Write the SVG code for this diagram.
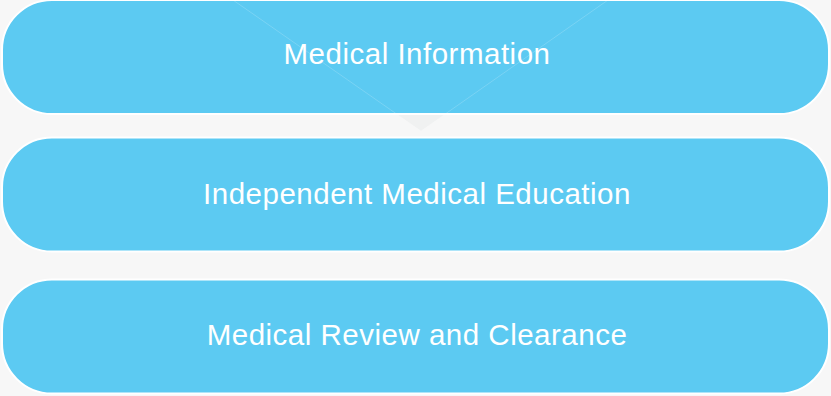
<svg xmlns="http://www.w3.org/2000/svg" width="831" height="396" viewBox="0 0 831 396">
  <style>
    .box { fill: #5ccaf2; stroke: #ffffff; stroke-width: 2; }
    .lbl { fill: #ffffff; font-family: "Liberation Sans", Arial, sans-serif; font-size: 29.5px; letter-spacing: 0.5px; text-anchor: middle; }
  </style>
  <rect x="0" y="0" width="831" height="396" fill="#f7f7f7"/>
  <g id="connectors">
    <polygon points="233,0 608,0 421,131" fill="#f0f1f1"/>
  </g>
  <g id="node1">
    <rect class="box" x="2" y="0" width="827" height="114" rx="50" ry="50"/>
    <polyline points="233,0 421,131 608,0" fill="none" stroke="#ffffff" stroke-opacity="0.18" stroke-width="1"/>
    <text class="lbl" x="417" y="64">Medical Information</text>
  </g>
  <g id="node2">
    <rect class="box" x="2" y="137.5" width="827" height="114" rx="50" ry="50"/>
    <text class="lbl" x="417" y="204">Independent Medical Education</text>
  </g>
  <g id="node3">
    <rect class="box" x="2" y="279.5" width="827" height="114" rx="50" ry="50"/>
    <text class="lbl" x="417" y="345">Medical Review and Clearance</text>
  </g>
</svg>
